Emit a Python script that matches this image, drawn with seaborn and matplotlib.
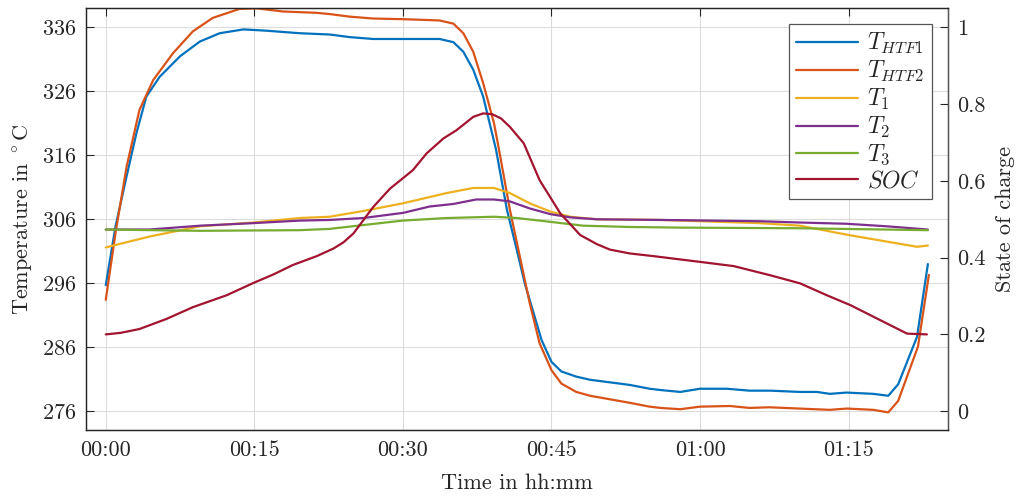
import numpy as np
import pandas as pd
import matplotlib
matplotlib.use("Agg")
import matplotlib.pyplot as plt
import seaborn as sns
from matplotlib.ticker import FuncFormatter

# ---- data (time in minutes) ----
t_htf1 = [0, 1.0, 2.1, 3.1, 4.1, 5.45, 7.5, 9.5, 11.5, 13.9, 16.2, 19.6, 22.6, 24.6, 27.0, 30.0, 33.7,
          35.1, 36.1, 37.1, 38.1, 39.4, 40.5, 41.5, 42.3, 43.2, 44.0, 45.0, 46.0, 47.5, 48.9, 52.9,
          54.9, 56.0, 58.0, 60.0, 62.7, 65.0, 67.1, 70.1, 71.8, 73.1, 74.8, 77.5, 79.0, 80.0, 81.9, 83.0]
T_htf1 = [295.7, 305.0, 312.7, 319.5, 325.2, 328.3, 331.5, 333.8, 335.1, 335.7, 335.5, 335.1, 334.9, 334.5,
          334.2, 334.2, 334.2, 333.7, 332.2, 329.4, 325.2, 316.9, 307.5, 301.2, 296.0, 291.3, 287.1, 283.7,
          282.2, 281.4, 280.9, 280.1, 279.5, 279.3, 279.0, 279.5, 279.5, 279.2, 279.2, 279.0, 279.0, 278.7,
          278.9, 278.7, 278.4, 280.2, 287.6, 299.0]

t_htf2 = [0, 1.0, 2.1, 3.4, 4.8, 6.8, 8.8, 10.8, 13.5, 15.2, 17.9, 21.2, 22.6, 24.6, 27.0, 30.0, 33.7,
          35.1, 36.1, 37.1, 38.1, 39.2, 39.7, 40.8, 41.8, 42.8, 43.8, 45.0, 46.0, 47.5, 48.9, 52.9, 54.9,
          56.0, 58.0, 60.0, 63.0, 65.0, 67.0, 70.0, 73.1, 74.8, 77.5, 79.0, 80.0, 82.0, 83.1]
T_htf2 = [293.4, 304.0, 314.2, 323.1, 327.8, 332.0, 335.4, 337.5, 338.9, 339.0, 338.5, 338.3, 338.1, 337.7,
          337.4, 337.3, 337.1, 336.6, 335.1, 332.2, 327.3, 321.0, 316.9, 307.5, 300.2, 292.9, 286.6, 282.4,
          280.3, 279.0, 278.4, 277.3, 276.7, 276.5, 276.3, 276.7, 276.8, 276.5, 276.6, 276.4, 276.2, 276.4,
          276.2, 275.8, 277.6, 286.1, 297.3]

t_1 = [0, 4.4, 9.5, 14.9, 19.6, 22.6, 26.0, 30.0, 34.4, 37.1, 39.2, 40.8, 42.8, 44.9, 46.9, 49.6,
       56.0, 66.0, 70.1, 74.8, 78.9, 81.9, 83.0]
T_1 = [301.6, 303.3, 304.9, 305.5, 306.2, 306.4, 307.3, 308.5, 310.1, 310.9, 310.9, 310.1, 308.5, 307.2,
       306.4, 306.0, 305.9, 305.4, 305.0, 303.6, 302.5, 301.7, 301.9]

t_2 = [0, 4.4, 9.5, 14.9, 19.6, 22.6, 26.0, 30.0, 32.7, 35.1, 37.4, 39.2, 40.8, 42.8, 44.9, 46.9,
       49.6, 56.0, 66.0, 70.0, 74.8, 78.9, 83.0]
T_2 = [304.4, 304.4, 305.0, 305.4, 305.8, 305.9, 306.2, 307.0, 308.0, 308.4, 309.1, 309.1, 308.8, 307.7,
       306.8, 306.3, 306.0, 305.9, 305.7, 305.5, 305.3, 304.9, 304.4]

t_3 = [0, 9.5, 19.6, 22.6, 26.0, 30.0, 34.4, 39.2, 41.5, 44.9, 48.2, 52.9, 58.0, 70.0, 83.0]
T_3 = [304.4, 304.2, 304.3, 304.5, 305.1, 305.8, 306.2, 306.4, 306.2, 305.6, 305.0, 304.8, 304.7, 304.6, 304.3]

t_soc = [0, 1.5, 3.4, 6.1, 8.8, 12.2, 14.9, 16.9, 18.9, 21.3, 23.0, 24.0, 25.0, 27.0, 28.7, 31.0, 32.4, 34.1,
         35.4, 37.1, 38.1, 39.0, 39.9, 40.8, 42.2, 43.8, 45.9, 47.9, 49.6, 50.9, 52.9, 55.3, 60.0, 63.4,
         67.1, 70.1, 72.8, 75.2, 78.2, 80.9, 82.9]
SOC = [0.200, 0.204, 0.214, 0.240, 0.271, 0.302, 0.334, 0.356, 0.381, 0.404, 0.424, 0.440, 0.463, 0.532, 0.580,
       0.628, 0.672, 0.711, 0.732, 0.767, 0.776, 0.774, 0.763, 0.741, 0.698, 0.602, 0.515, 0.459, 0.435,
       0.421, 0.411, 0.404, 0.389, 0.378, 0.354, 0.333, 0.302, 0.276, 0.237, 0.202, 0.200]

x_ticks = [0, 15, 30, 45, 60, 75]
left_ticks = [276, 286, 296, 306, 316, 326, 336]
right_ticks = [0, 0.2, 0.4, 0.6, 0.8, 1.0]

colors = ["#0072BD", "#D95319", "#EDB120", "#7E2F8E", "#77AC30", "#A2142F"]
labels = [r"$T_{HTF1}$", r"$T_{HTF2}$", r"$T_1$", r"$T_2$", r"$T_3$", r"$SOC$"]

sns.set_theme(style="white")
plt.rcParams.update({
    "font.family": "serif",
    "font.serif": ["cmr10"],
    "mathtext.fontset": "cm",
    "axes.unicode_minus": False,
    "axes.formatter.use_mathtext": True,
})

fig = plt.figure(figsize=(10.22, 4.97), dpi=100)
ax = fig.add_axes([0.0841, 0.1342, 0.9273 - 0.0841, 0.9833 - 0.1342])
ax2 = ax.twinx()

series = [(t_htf1, T_htf1), (t_htf2, T_htf2), (t_1, T_1), (t_2, T_2), (t_3, T_3)]
for (tt, vv), c, lab in zip(series, colors[:5], labels[:5]):
    sns.lineplot(x=tt, y=vv, ax=ax, color=c, lw=1.6, label=lab, legend=False, estimator=None, sort=False)
sns.lineplot(x=t_soc, y=SOC, ax=ax2, color=colors[5], lw=1.6, label=labels[5], legend=False,
             estimator=None, sort=False)

ax.set_xlim(-2.0, 85.0)
ax.set_ylim(273.0, 339.0)
ax2.set_ylim(-0.05, 1.05)

ax.set_xticks(x_ticks)
ax.xaxis.set_major_formatter(FuncFormatter(lambda v, p: f"{int(v)//60:02d}:{int(v)%60:02d}"))
ax.set_yticks(left_ticks)
ax2.set_yticks(right_ticks)
ax2.yaxis.set_major_formatter(FuncFormatter(lambda v, p: "0" if abs(v) < 1e-9 else ("1" if abs(v-1) < 1e-9 else f"{v:.1f}")))

ax.grid(True, color="#dcdcdc", lw=0.8)
ax.set_axisbelow(True)

tc = "#262626"
fs = 16
ax.tick_params(axis="both", direction="in", length=6, width=0.8, colors=tc, labelsize=fs,
               top=True, right=False, pad=7)
ax2.tick_params(axis="y", direction="in", length=6, width=0.8, colors=tc, labelsize=fs, pad=7)
for a in (ax, ax2):
    for s in a.spines.values():
        s.set_color(tc)
        s.set_linewidth(0.9)
ax2.spines["right"].set_color("#555555")

ax.set_xlabel("Time in hh:mm", fontsize=fs, color=tc, labelpad=10)
ax.set_ylabel(r"Temperature in $^\circ$C", fontsize=fs, color=tc, labelpad=5)
ax2.set_ylabel("State of charge", fontsize=fs, color=tc, labelpad=7)

h1, l1 = ax.get_legend_handles_labels()
h2, l2 = ax2.get_legend_handles_labels()
leg = ax2.legend(h1 + h2, l1 + l2, loc="upper right", bbox_to_anchor=(0.9814, 0.962),
                 borderaxespad=0, fontsize=17, frameon=True, fancybox=False, framealpha=1,
                 edgecolor="#555555", handlelength=2.6, labelspacing=0.12, borderpad=0.3,
                 handletextpad=0.4)
leg.get_frame().set_linewidth(0.9)

fig.savefig("out.png", dpi=100)
